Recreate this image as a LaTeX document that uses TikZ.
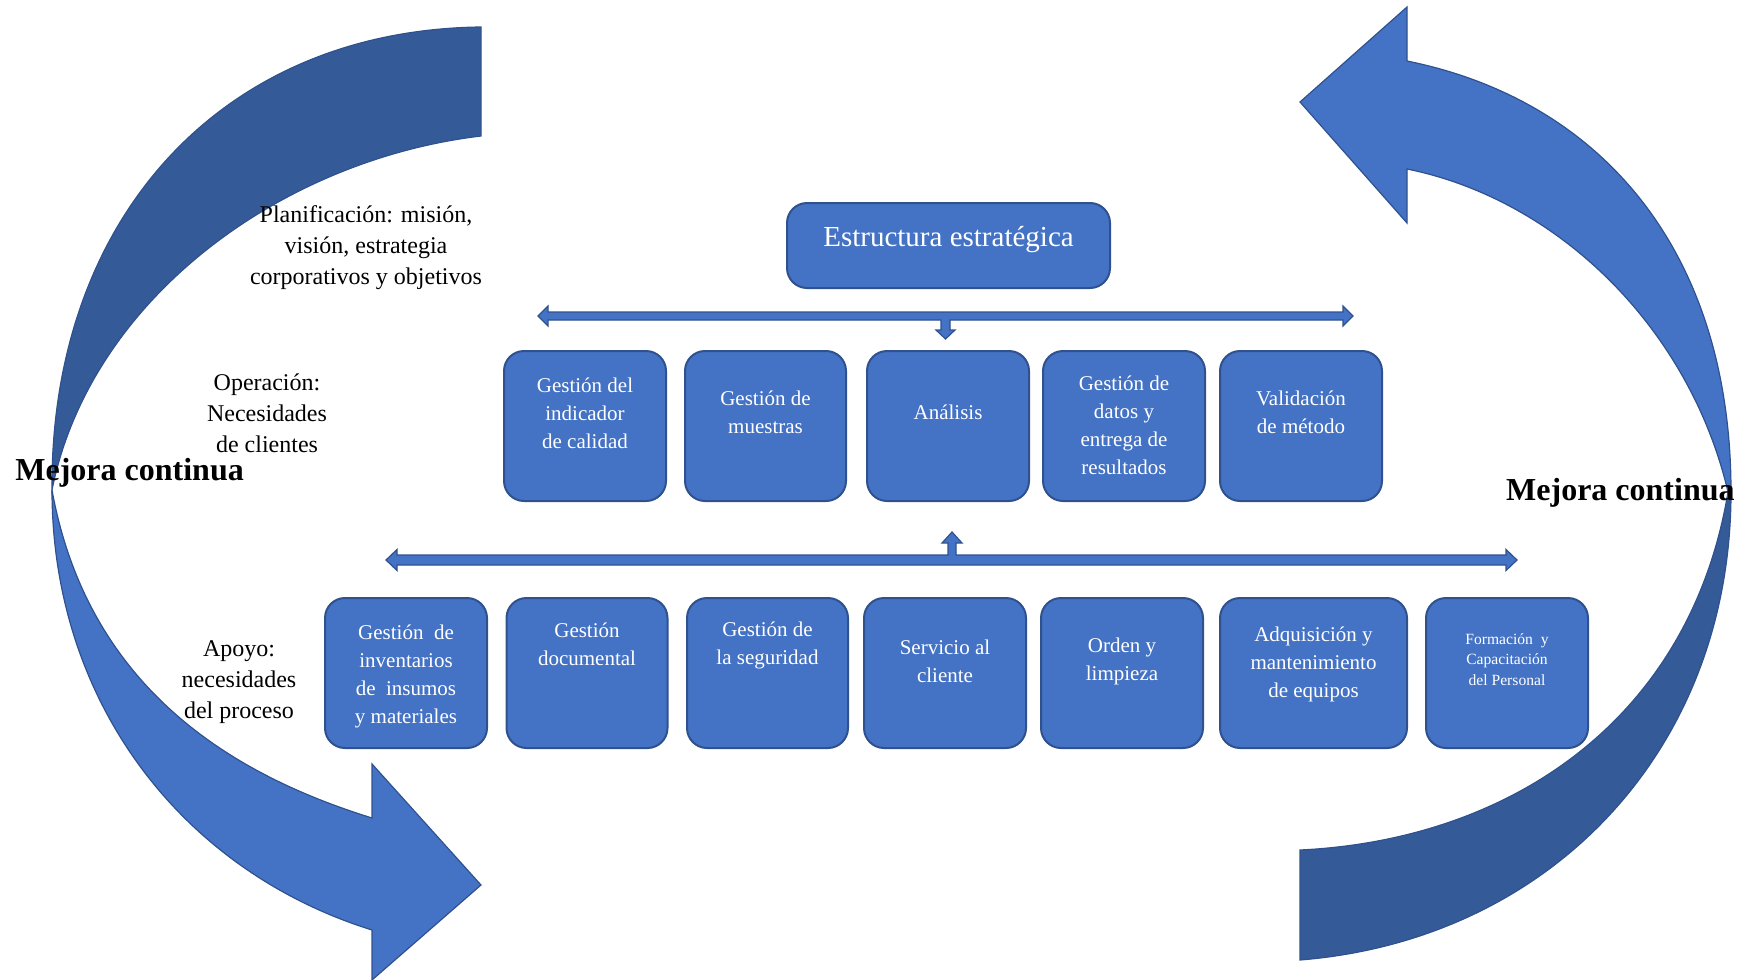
\documentclass[tikz,border=0pt]{standalone}
\usepackage{fontspec}
\setmainfont{Liberation Serif}
\definecolor{azulcaja}{HTML}{4472C4}
\definecolor{bordeazul}{HTML}{2F528F}
\definecolor{azuloscuro}{HTML}{355A98}
\newcommand{\letracaja}{\fontsize{10.5}{14}\selectfont}
\newcommand{\letrachica}{\fontsize{7.8}{10.4}\selectfont}

\begin{document}
\begin{tikzpicture}[x=0.5pt, y=-0.5pt,
  caja/.style={draw=bordeazul, line width=1pt, fill=azulcaja, rounded corners=10pt, minimum height=75pt},
  texto/.style={text=white, align=center, inner sep=0pt},
  banda/.style={fill=azuloscuro, draw=bordeazul, line width=0.6pt},
  flecha/.style={fill=azulcaja, draw=bordeazul, line width=0.6pt},
  etiqueta/.style={align=center, font=\fontsize{12}{15.5}\selectfont},
  mejora/.style={font=\fontsize{16}{19}\selectfont\bfseries}]
  \useasboundingbox (0,0) rectangle (1746,980);
  % flecha curva de la izquierda: parte oscura arriba, punta abajo
  \filldraw[banda] (481,27) .. controls (220,30) and (50,220) .. (52,490)
    .. controls (90,300) and (280,160) .. (481,136) -- cycle;
  \filldraw[flecha] (52,490) .. controls (52,700) and (180,870) .. (372,930)
    -- (372,980) -- (481,885) -- (372,764) -- (372,818)
    .. controls (250,780) and (90,700) .. (52,490) -- cycle;
  % flecha curva de la derecha: punta arriba, parte oscura abajo
  \filldraw[flecha] (1731,492) .. controls (1731,250) and (1600,100) .. (1407,61)
    -- (1407,7) -- (1300,102) -- (1407,223) -- (1407,169)
    .. controls (1560,200) and (1690,330) .. (1728,492) -- cycle;
  \filldraw[banda] (1731,492) .. controls (1731,750) and (1550,940) .. (1300,960)
    -- (1300,850) .. controls (1510,840) and (1690,720) .. (1728,492) -- cycle;
  % estructura estrategica
  \node[caja, minimum width=161.5pt, minimum height=42.5pt] (estructura) at (948.5,245.5) {};
  \node[texto, font=\fontsize{14.5}{17}\selectfont] (testructura)
    at ([yshift=3pt]estructura.center) {Estructura estratégica};
  % (nombre, x, y, ancho, subida del texto, letra, texto)
  \foreach \xnom/\xx/\xy/\xw/\xs/\xf/\xtx in {
    op1/585/426/162/13/\letracaja/{Gestión del\\indicador\\de calidad},
    op2/765.5/426/161/13.5/\letracaja/{Gestión de\\muestras},
    op3/948/426/162/14/\letracaja/{Análisis},
    op4/1124/426/162/1/\letracaja/{Gestión de\\datos y\\entrega de\\resultados},
    op5/1301/426/162/13.5/\letracaja/{Validación\\de método},
    ap1/406/673/162/-3/\letracaja/{Gestión\ \ de\\inventarios\\de\ \ insumos\\y materiales},
    ap2/587/673/161/29/\letracaja/{Gestión\\documental},
    ap3/767.5/673/161/28/\letracaja/{Gestión de\\la seguridad},
    ap4/945/673/162/12/\letracaja/{Servicio al\\cliente},
    ap5/1122/673/162/12/\letracaja/{Orden y\\limpieza},
    ap6/1313.5/673/187/8.5/\letracaja/{Adquisición y\\mantenimiento\\de equipos},
    ap7/1507/673/162/13.5/\letrachica/{Formación\ \ y\\Capacitación\\del Personal}}
  {
    \node[caja, minimum width=\xw*0.5pt] (\xnom) at (\xx,\xy) {};
    \node[texto, font=\xf] (t\xnom) at ([yshift=\xs*0.5pt]\xnom.center) {\xtx};
  }
  % flechas de bloque entre niveles
  \filldraw[flecha] (538,316) -- (548,306) -- (548,312) -- (1343,312) -- (1343,306)
    -- (1353,316) -- (1343,326) -- (1343,320) -- (950,320) -- (950,330) -- (955,330)
    -- (945.5,339) -- (936,330) -- (941,330) -- (941,320) -- (548,320) -- (548,326) -- cycle;
  \filldraw[flecha] (386,560) -- (397,549.5) -- (397,555) -- (948,555) -- (948,543)
    -- (942,543) -- (952,532) -- (962,543) -- (956,543) -- (956,555) -- (1506,555)
    -- (1506,549.5) -- (1517,560) -- (1506,570.5) -- (1506,565) -- (397,565)
    -- (397,570.5) -- cycle;
  % rotulos de los niveles
  \node[etiqueta] (planif) at (366,248) {Planificación: misión,\\visión, estrategia\\corporativos y objetivos};
  \node[etiqueta] (operac) at (267,413) {Operación:\\Necesidades\\de clientes};
  \node[etiqueta] (apoyo) at (239,682) {Apoyo:\\necesidades\\del proceso};
  \node[mejora, anchor=base west, inner sep=0pt] (mejizq) at (15,480) {Mejora continua};
  \node[mejora, anchor=base east, inner sep=0pt] (mejder) at (1735,500) {Mejora continua};
\end{tikzpicture}
\end{document}
